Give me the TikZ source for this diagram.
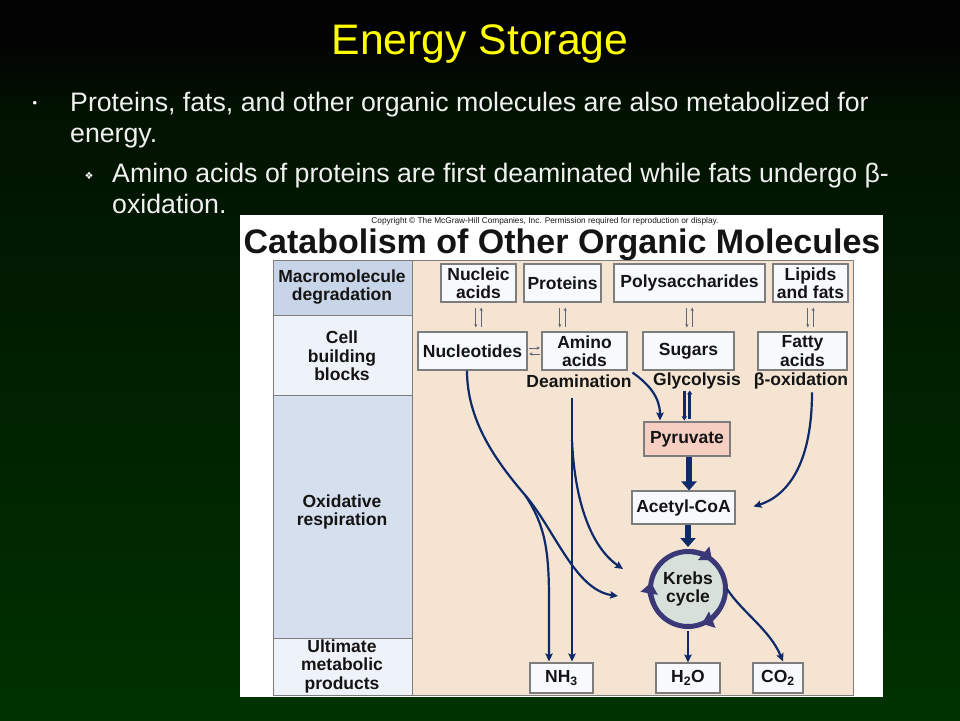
\documentclass[tikz,border=0pt]{standalone}
\usepackage{fontspec}
\setmainfont{Liberation Sans}
\newfontfamily\dejavu{DejaVu Sans}
\usetikzlibrary{arrows.meta,calc}
\definecolor{bgtop}{HTML}{011201}
\definecolor{bgbot}{HTML}{003200}
\definecolor{barc}{HTML}{030303}
\definecolor{boxfill}{HTML}{F7F9FD}
\definecolor{boxdraw}{HTML}{7D7D7D}
\definecolor{panelc}{HTML}{F5E4D2}
\definecolor{rowa}{HTML}{C8D4E7}
\definecolor{rowb}{HTML}{EEF2F9}
\definecolor{rowc}{HTML}{D5DFEE}
\definecolor{pyrfill}{HTML}{F7CFC2}
\definecolor{krebsfill}{HTML}{D8E0DA}
\definecolor{ringc}{HTML}{3B3877}
\definecolor{navyc}{HTML}{0E2A6A}
\definecolor{revgray}{HTML}{5E6678}
\definecolor{titley}{HTML}{FFFF00}
\newcommand\labfont{\fontsize{17.5}{18.5}\selectfont\bfseries}
\newcommand\bodyfont{\fontsize{26.7}{31}\selectfont}
\tikzset{
  cellbox/.style={draw=boxdraw, fill=boxfill, line width=1.1pt, inner sep=0pt, align=center, font=\labfont, text=black!92},
  rowlab/.style={align=center, font=\labfont, text=black!92, inner sep=0pt},
  steplab/.style={font=\labfont, text=black!92, inner sep=0pt},
  revarr/.style={draw=revgray, line width=0.9pt, -{Stealth[length=3.5pt,width=3.2pt]}},
  navyarr/.style={draw=navyc, line width=2.2pt, -{Stealth[length=8pt,width=7.5pt,inset=1.5pt]}},
  thickarr/.style={draw=navyc, line width=6pt, -{Triangle[length=9pt,width=15pt]}},
  ringarr/.style={draw=ringc, line width=5pt, -{Triangle[length=11pt,width=17pt]}},
  glyarr/.style={draw=navyc, line width=2.6pt, -{Triangle[length=4pt,width=5pt]}},
  bodytext/.style={text=white!94!black, font=\bodyfont, anchor=base west, inner sep=0pt}
}
\newcommand\revpair[2]{%
  \draw[revarr] ($(#1.south)+(-2.7,5)$) -- ($(#1.south |- #2.north)+(-2.7,-4)$);
  \draw[revarr] ($(#1.south |- #2.north)+(2.7,-4)$) -- ($(#1.south)+(2.7,5)$);}
\begin{document}
\begin{tikzpicture}[x=1pt,y=-1pt]
\useasboundingbox (0,0) rectangle (960,720);
% slide background
\fill[barc] (0,0) rectangle (960,42);
\fill[top color=barc, bottom color=bgtop] (0,42) rectangle (960,110);
\fill[top color=bgtop, bottom color=bgbot] (0,110) rectangle (960,720);
% slide texts
\node[text=titley, font=\fontsize{42.7}{46}\selectfont, anchor=base, inner sep=0pt] (slidetitle) at (480,54) {Energy Storage};
\node[text=white, font=\fontsize{13}{13}\selectfont, inner sep=0pt] (bul1) at (35,104) {•};
\node[bodytext] (l1) at (70,111) {Proteins, fats, and other organic molecules are also metabolized for};
\node[bodytext] (l2) at (70,142) {energy.};
\node[text=white, font=\dejavu\fontsize{10}{10}\selectfont, inner sep=0pt] (bul2) at (89,176) {❖};
\node[bodytext] (l3) at (112,182) {Amino acids of proteins are first deaminated while fats undergo β-};
\node[bodytext] (l4) at (112,213) {oxidation.};
% figure background
\fill[white] (240,215) rectangle (883,697);
\node[font=\fontsize{8.3}{9}\selectfont, text=black!90, inner sep=0pt] (copyr) at (545,221) {Copyright © The McGraw-Hill Companies, Inc. Permission required for reproduction or display.};
\node[font=\fontsize{34}{36}\selectfont\bfseries, anchor=base, inner sep=0pt, text=black!92] (figtitle) at (562,253) {Catabolism of Other Organic Molecules};
% left column and panel
\filldraw[fill=rowa, draw=boxdraw, line width=1pt] (273,260) rectangle (412,315);
\filldraw[fill=rowb, draw=boxdraw, line width=1pt] (273,315) rectangle (412,395);
\filldraw[fill=rowc, draw=boxdraw, line width=1pt] (273,395) rectangle (412,638);
\filldraw[fill=rowb, draw=boxdraw, line width=1pt] (273,638) rectangle (412,695);
\filldraw[fill=panelc, draw=boxdraw, line width=1pt] (412,260) rectangle (853,695);
\node[rowlab] (rmacro) at (342,287) {Macromolecule\\degradation};
\node[rowlab] (rcell) at (342,356) {Cell\\building\\blocks};
\node[rowlab] (roxid) at (342,512) {Oxidative\\respiration};
\node[rowlab] (rult) at (342,666) {Ultimate\\metabolic\\products};
% top row
\node[cellbox, minimum width=75pt, minimum height=38pt] (nucleic) at (478.5,283) {Nucleic\\acids};
\node[cellbox, minimum width=77pt, minimum height=38pt] (proteins) at (562.5,283) {Proteins};
\node[cellbox, minimum width=151pt, minimum height=38pt] (polysac) at (689.5,283) {Polysaccharides};
\node[cellbox, minimum width=75pt, minimum height=38pt] (lipids) at (810.5,283) {Lipids\\and fats};
% second row
\node[cellbox, minimum width=109pt, minimum height=38pt] (nucleotides) at (472.5,351) {Nucleotides};
\node[cellbox, minimum width=85pt, minimum height=38pt] (amino) at (584.5,351) {Amino\\acids};
\node[cellbox, minimum width=91pt, minimum height=38pt] (sugars) at (688.5,351) {Sugars};
\node[cellbox, minimum width=89pt, minimum height=38pt] (fatty) at (802.5,351) {Fatty\\acids};
% step labels
\node[steplab] (deam) at (579,381) {Deamination};
\node[steplab] (glyc) at (697,381) {Glycolysis};
\node[steplab] (betaox) at (801,381) {β-oxidation};
% pathway
\node[cellbox, fill=pyrfill, minimum width=86pt, minimum height=34pt] (pyruvate) at (687,439) {Pyruvate};
\node[cellbox, minimum width=103pt, minimum height=33pt] (acetyl) at (683.5,507.5) {Acetyl-CoA};
\node[circle, draw=ringc, fill=krebsfill, line width=5pt, minimum size=75pt, inner sep=0pt, align=center, font=\labfont, text=black!92] (krebs) at (688,589) {Krebs\\cycle};
% products
\node[cellbox, minimum width=63pt, minimum height=30pt] (nh3) at (561.5,678) {NH\textsubscript{3}};
\node[cellbox, minimum width=64pt, minimum height=30pt] (h2o) at (688,678) {H\textsubscript{2}O};
\node[cellbox, minimum width=50pt, minimum height=30pt] (co2) at (778,678) {CO\textsubscript{2}};
% reversible pairs
\revpair{nucleic}{nucleotides}
\revpair{proteins}{amino}
\revpair{polysac}{sugars}
\revpair{lipids}{fatty}
\draw[revarr] ($(nucleotides.east)+(1.5,-3)$) -- ($(nucleotides.east -| amino.west)+(-1.5,-3)$);
\draw[revarr] ($(nucleotides.east -| amino.west)+(-1.5,3)$) -- ($(nucleotides.east)+(1.5,3)$);
% ring arrowheads
\draw[ringarr] ($(krebs.center)+(-84:37.5)$) arc[start angle=-84, end angle=-50, radius=37.5];
\draw[ringarr] ($(krebs.center)+(-204:37.5)$) arc[start angle=-204, end angle=-170, radius=37.5];
\draw[ringarr] ($(krebs.center)+(36:37.5)$) arc[start angle=36, end angle=68, radius=37.5];
% free ends
\coordinate (deamtop) at (572,398);
\coordinate (splitpt) at (525,495);
\coordinate (krebsinA) at (618,596);
\coordinate (krebsinB) at (623,569);
% arrows
\draw[navyarr] (nucleotides.south -| 467,0) .. controls (467,420) and (495,460) .. (splitpt)
   .. controls (545,525) and (549,550) .. (549,600) -- ($(nh3.north)+(-12.5,-1)$);
\draw[navyarr] (splitpt) .. controls (555,530) and (575,590) .. (krebsinA);
\draw[navyarr] (deamtop) -- ($(nh3.north)+(10.5,-1)$);
\draw[navyarr] (572,440) .. controls (575,510) and (595,550) .. (krebsinB);
\draw[navyarr] ($(amino.south east)+(5,2)$) .. controls (650,385) and (660,398) .. ($(pyruvate.north)+(-27,-1)$);
\draw[glyarr] ($(pyruvate.north)+(-2.7,-30)$) -- ($(pyruvate.north)+(-2.7,-1)$);
\draw[glyarr] ($(pyruvate.north)+(2.7,-2)$) -- ($(pyruvate.north)+(2.7,-31)$);
\draw[navyarr] ($(betaox.south)+(11,3)$) .. controls (812,460) and (790,495) .. ($(acetyl.east)+(18,-1)$);
\draw[thickarr] ($(pyruvate.south)+(2,0)$) -- ($(pyruvate.south |- acetyl.north)+(2,0)$);
\draw[thickarr] (krebs.north |- acetyl.south) -- ($(krebs.north)+(0,-2)$);
\draw[navyarr] ($(krebs.south)+(0,2)$) -- (h2o.north);
\draw[navyarr] ($(krebs.east)+(-1,0)$) .. controls (742,612) and (770,630) .. ($(co2.north)+(5,-1)$);
\end{tikzpicture}
\end{document}
